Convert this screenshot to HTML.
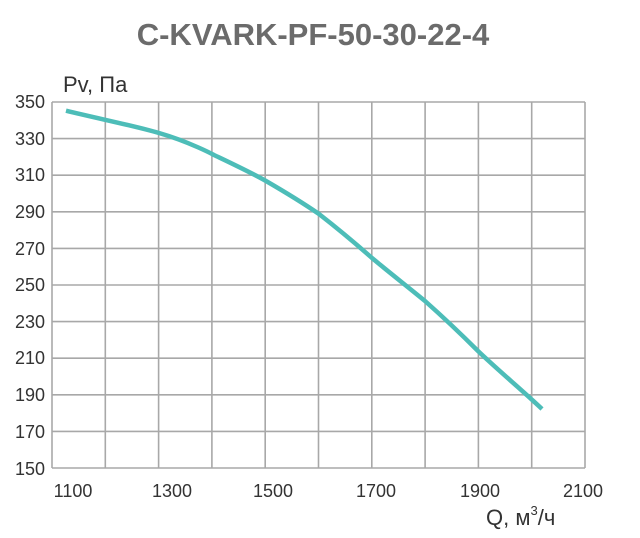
<!DOCTYPE html>
<html><head><meta charset="utf-8"><style>
html,body{margin:0;padding:0;background:#fff;}
svg{display:block;font-family:"Liberation Sans",sans-serif;}
</style></head><body>
<svg width="640" height="538" viewBox="0 0 640 538" xmlns="http://www.w3.org/2000/svg">
<text x="313" y="45" text-anchor="middle" font-size="31" font-weight="bold" fill="#6b6b6b">C-KVARK-PF-50-30-22-4</text>
<g stroke="#a8a8a8" stroke-width="1.6" fill="none">
<line x1="105.3" y1="102" x2="105.3" y2="468"/><line x1="158.6" y1="102" x2="158.6" y2="468"/>
<line x1="211.9" y1="102" x2="211.9" y2="468"/><line x1="265.2" y1="102" x2="265.2" y2="468"/>
<line x1="318.5" y1="102" x2="318.5" y2="468"/><line x1="371.8" y1="102" x2="371.8" y2="468"/>
<line x1="425.1" y1="102" x2="425.1" y2="468"/><line x1="478.4" y1="102" x2="478.4" y2="468"/>
<line x1="531.7" y1="102" x2="531.7" y2="468"/><line x1="585" y1="102" x2="585" y2="468"/>
<line x1="52" y1="102" x2="585" y2="102"/><line x1="52" y1="138.6" x2="585" y2="138.6"/>
<line x1="52" y1="175.2" x2="585" y2="175.2"/><line x1="52" y1="211.8" x2="585" y2="211.8"/>
<line x1="52" y1="248.4" x2="585" y2="248.4"/><line x1="52" y1="285" x2="585" y2="285"/>
<line x1="52" y1="321.6" x2="585" y2="321.6"/><line x1="52" y1="358.2" x2="585" y2="358.2"/>
<line x1="52" y1="394.8" x2="585" y2="394.8"/><line x1="52" y1="431.4" x2="585" y2="431.4"/>
<line x1="52" y1="468" x2="585" y2="468"/><line x1="52" y1="102" x2="52" y2="468"/>
</g>
<path d="M66,110.7 C100,119 135,126 159,133 C190,142 214,155 214,155 C235,165 250,172 266,181 C285,192 303,203 319,214 C337,228 355,243 372,258 C390,273 408,287 425,301 C443,317 461,334 478,351 C500,372 522,390 542,409" stroke="#4dbdb8" stroke-width="4.5" fill="none"/>
<g fill="#333">
<text x="63" y="92" font-size="22">Pv, Па</text>
<g text-anchor="end" font-size="18">
<text x="45" y="108">350</text><text x="45" y="145">330</text><text x="45" y="181">310</text>
<text x="45" y="218">290</text><text x="45" y="255">270</text><text x="45" y="291">250</text>
<text x="45" y="328">230</text><text x="45" y="364">210</text><text x="45" y="401">190</text>
<text x="45" y="438">170</text><text x="45" y="475">150</text>
</g>
<g text-anchor="middle" font-size="18">
<text x="73" y="497">1100</text><text x="172" y="497">1300</text><text x="273" y="497">1500</text>
<text x="376" y="497">1700</text><text x="480" y="497">1900</text><text x="583" y="497">2100</text>
</g>
<text x="486" y="525" font-size="22">Q, м<tspan font-size="13" dy="-10">3</tspan><tspan dy="10">/ч</tspan></text>
</g>
</svg>
</body></html>
